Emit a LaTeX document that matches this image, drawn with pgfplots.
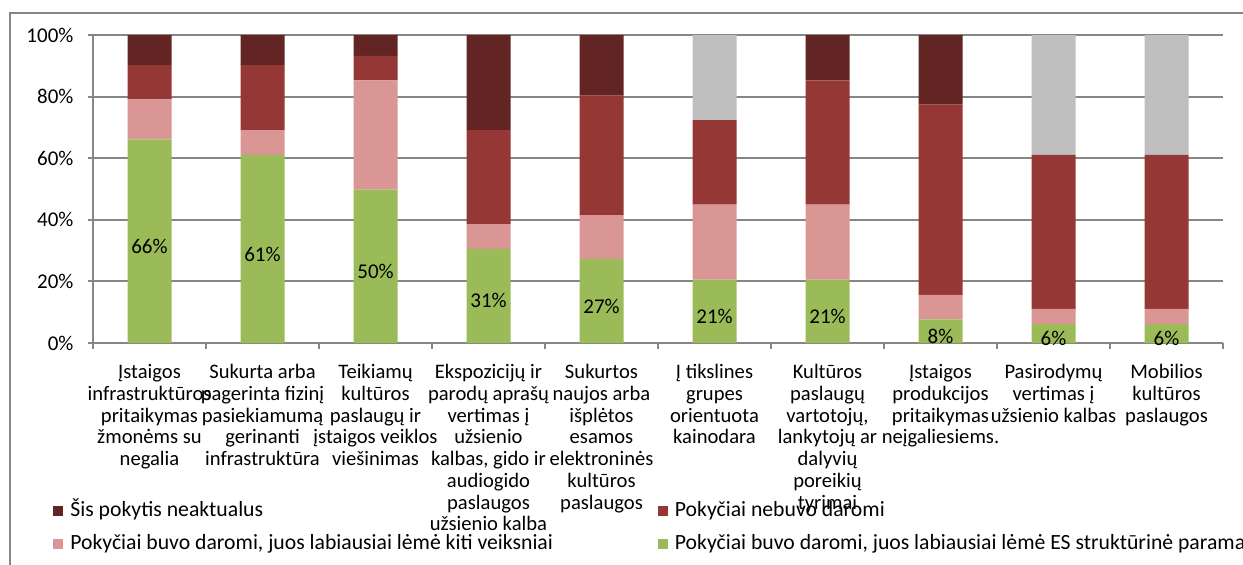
\documentclass[border=0pt]{standalone}
\usepackage{fontspec}
\setmainfont{Carlito}
\usepackage{pgfplots}
\pgfplotsset{compat=1.18}
\usepackage{pgfplotstable}

\definecolor{cDark}{HTML}{632523}
\definecolor{cRed}{HTML}{953735}
\definecolor{cPink}{HTML}{D99694}
\definecolor{cGreen}{HTML}{9BBB59}
\definecolor{cGray}{HTML}{BFBFBF}
\definecolor{axisgray}{HTML}{868686}

% green = ES parama, pink = kiti veiksniai, red = nebuvo daromi, dark = neaktualus, na = no answer
\pgfplotstableread{
x g p r d na lab
1 66.1 13.0 11.1 9.8 0 66
2 61.0 8.1 21.1 9.8 0 61
3 49.8 35.5 7.9 6.8 0 50
4 30.6 8.0 30.5 30.9 0 31
5 27.3 14.2 38.8 19.7 0 27
6 20.6 24.3 27.5 0 27.6 21
7 20.6 24.3 40.4 14.7 0 21
8 7.7 7.9 61.8 22.6 0 8
9 6.1 5.0 50.0 0 38.9 6
10 6.1 5.0 50.0 0 38.9 6
}\shares

\pgfplotsset{
  sq legend/.style={legend image code/.code={\fill[##1] (0pt,-2.5pt) rectangle (5pt,2.5pt);}},
  frame/.style={at={(46.5pt,110.5pt)}, anchor=south west, scale only axis,
    width=565pt, height=154pt, xmin=0.5, xmax=10.5, ymin=0, ymax=100},
}

\begin{document}
\begin{tikzpicture}
  \useasboundingbox (0,0) rectangle (621.5pt,282pt);
  \draw[axisgray, line width=1pt] (5pt,-1pt) -- (5pt,275.5pt) -- (623pt,275.5pt);
  \begin{axis}[
      frame,
      ybar stacked, bar width=22pt,
      axis x line*=bottom, axis y line*=left,
      axis line style={axisgray, line width=1pt},
      ymajorgrids, grid style={axisgray, line width=1pt},
      tick align=outside,
      major tick length=2.75pt,
      ytick={0,20,40,60,80,100},
      yticklabels={0\%,20\%,40\%,60\%,80\%,100\%},
      yticklabel style={font=\fontsize{10.5}{11}\selectfont, xshift=-3.5pt},
      ytick style={axisgray, line width=1pt},
      xtick={1,...,10},
      xtick style={draw=none},
      xticklabels={
        {Įstaigos\\infrastruktūros\\pritaikymas\\žmonėms su\\negalia},
        {Sukurta arba\\pagerinta fizinį\\pasiekiamumą\\gerinanti\\infrastruktūra},
        {Teikiamų\\kultūros\\paslaugų ir\\įstaigos veiklos\\viešinimas},
        {Ekspozicijų ir\\parodų aprašų\\vertimas į\\užsienio\\kalbas, gido ir\\audiogido\\paslaugos\\užsienio kalba},
        {Sukurtos\\naujos arba\\išplėtos\\esamos\\elektroninės\\kultūros\\paslaugos},
        {Į tikslines\\grupes\\orientuota\\kainodara},
        {Kultūros\\paslaugų\\vartotojų,\\lankytojų ar\\dalyvių\\poreikių\\tyrimai},
        {Įstaigos\\produkcijos\\pritaikymas\\neįgaliesiems.},
        {Pasirodymų\\vertimas į\\užsienio kalbas},
        {Mobilios\\kultūros\\paslaugos},
      },
      xticklabel style={font=\fontsize{10.3}{10.85}\selectfont, align=center, yshift=-4.5pt},
      extra x ticks={0.5,1.5,...,10.5},
      extra x tick labels={},
      extra x tick style={xtick style={draw=axisgray, line width=1pt}},
      legend columns=2,
      reverse legend,
      legend cell align=left,
      legend style={
        at={(-0.0354,-0.513)}, anchor=north west,
        draw=none, fill=none, inner sep=0pt,
        font=\fontsize{10.85}{12}\selectfont,
        nodes={inner sep=0pt, text height=7.5pt, text depth=2pt},
        row sep=7pt,
        /tikz/every odd column/.append style={column sep=3.5pt},
        /tikz/column 2/.style={column sep=52.5pt},
      },
    ]
    \addplot[fill=cGreen, draw=none, sq legend] table[x=x, y=g] {\shares};
    \addlegendentry{Pokyčiai buvo daromi, juos labiausiai lėmė ES struktūrinė parama}
    \addplot[fill=cPink, draw=none, sq legend] table[x=x, y=p] {\shares};
    \addlegendentry{Pokyčiai buvo daromi, juos labiausiai lėmė kiti veiksniai}
    \addplot[fill=cRed, draw=none, sq legend] table[x=x, y=r] {\shares};
    \addlegendentry{Pokyčiai nebuvo daromi}
    \addplot[fill=cDark, draw=none, sq legend] table[x=x, y=d] {\shares};
    \addlegendentry{Šis pokytis neaktualus}
    \addplot[fill=cGray, draw=none, forget plot] table[x=x, y=na] {\shares};
  \end{axis}
  \begin{axis}[frame, hide axis]
    \addplot[only marks, mark=none, point meta=explicit symbolic,
      nodes near coords={\pgfplotspointmeta\%},
      every node near coord/.style={anchor=center, yshift=-2.5pt,
        font=\fontsize{10.5}{12}\selectfont, text=black}]
      table[x=x, y expr=\thisrow{g}/2, meta=lab] {\shares};
  \end{axis}
\end{tikzpicture}
\end{document}
